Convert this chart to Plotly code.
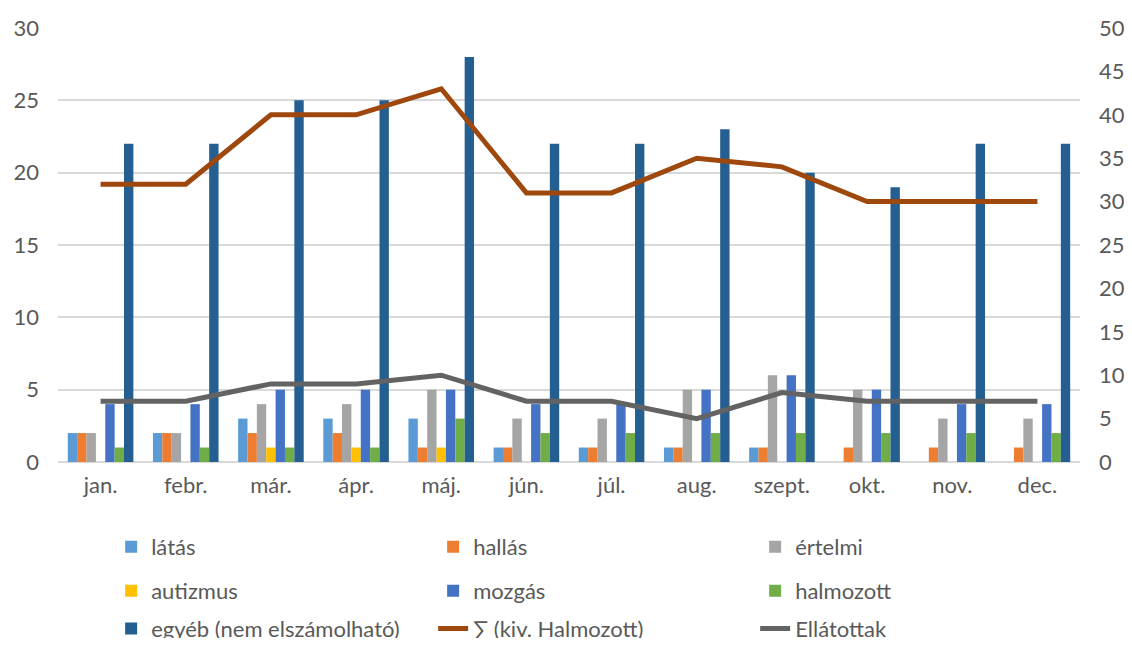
import plotly.graph_objects as go

months = ['jan.', 'febr.', 'már.', 'ápr.', 'máj.', 'jún.', 'júl.', 'aug.',
          'szept.', 'okt.', 'nov.', 'dec.']

latas = [2, 2, 3, 3, 3, 1, 1, 1, 1, 0, 0, 0]
hallas = [2, 2, 2, 2, 1, 1, 1, 1, 1, 1, 1, 1]
ertelmi = [2, 2, 4, 4, 5, 3, 3, 5, 6, 5, 3, 3]
autizmus = [0, 0, 1, 1, 1, 0, 0, 0, 0, 0, 0, 0]
mozgas = [4, 4, 5, 5, 5, 4, 4, 5, 6, 5, 4, 4]
halmozott = [1, 1, 1, 1, 3, 2, 2, 2, 2, 2, 2, 2]
egyeb = [22, 22, 25, 25, 28, 22, 22, 23, 20, 19, 22, 22]

# right axis
osszeg = [32, 32, 40, 40, 43, 31, 31, 35, 34, 30, 30, 30]
ellatottak = [7, 7, 9, 9, 10, 7, 7, 5, 8, 7, 7, 7]

FONT = 'Lato'
GREY = '#595959'
FS = 22

bars = [
    ('látás', latas, '#5B9BD5', 'legend'),
    ('hallás', hallas, '#ED7D31', 'legend'),
    ('értelmi', ertelmi, '#A5A5A5', 'legend'),
    ('autizmus', autizmus, '#FFC000', 'legend2'),
    ('mozgás', mozgas, '#4472C4', 'legend2'),
    ('halmozott', halmozott, '#70AD47', 'legend2'),
    ('egyéb (nem elszámolható)', egyeb, '#255E91', 'legend3'),
]

fig = go.Figure()
for name, vals, color, leg in bars:
    fig.add_trace(go.Bar(x=months, y=vals, name=name, marker_color=color,
                         marker_line_width=0, legend=leg))

fig.add_trace(go.Scatter(x=months, y=osszeg, name='∑ (kiv. Halmozott)', mode='lines',
                         line=dict(color='#9E480E', width=5), yaxis='y2', legend='legend3'))
fig.add_trace(go.Scatter(x=months, y=ellatottak, name='Ellátottak', mode='lines',
                         line=dict(color='#636363', width=5), yaxis='y2', legend='legend3'))


def leg_style(y):
    return dict(orientation='h', x=0.052, xanchor='left', y=y, yanchor='middle',
                entrywidth=277, font=dict(family=FONT, size=FS, color=GREY),
                bgcolor='rgba(0,0,0,0)', traceorder='normal')


# page has an 8px body margin, keep the figure inside the window
fig.update_layout(
    width=1116, height=630,
    margin=dict(l=50, r=44, t=20, b=176, autoexpand=False),
    paper_bgcolor='white', plot_bgcolor='white',
    font=dict(family=FONT, size=FS, color=GREY),
    barmode='group', bargap=0.23, bargroupgap=0,
    xaxis=dict(showgrid=False, showline=False, ticks='', tickfont=dict(size=FS, color=GREY),
               ticklabelstandoff=8),
    yaxis=dict(range=[0, 30], dtick=5, showgrid=True, gridcolor='#D9D9D9', gridwidth=1.5,
               zeroline=True, zerolinecolor='#D9D9D9', zerolinewidth=1.5,
               tickfont=dict(size=FS, color=GREY), ticks='', ticklabelstandoff=18),
    yaxis2=dict(range=[0, 50], dtick=5, overlaying='y', side='right', showgrid=False,
                zeroline=False, tickfont=dict(size=FS, color=GREY), ticks='',
                ticklabelstandoff=18),
    legend=leg_style(-0.196),
    legend2=leg_style(-0.297),
    legend3=leg_style(-0.384),
)

fig.write_html('out.html')
